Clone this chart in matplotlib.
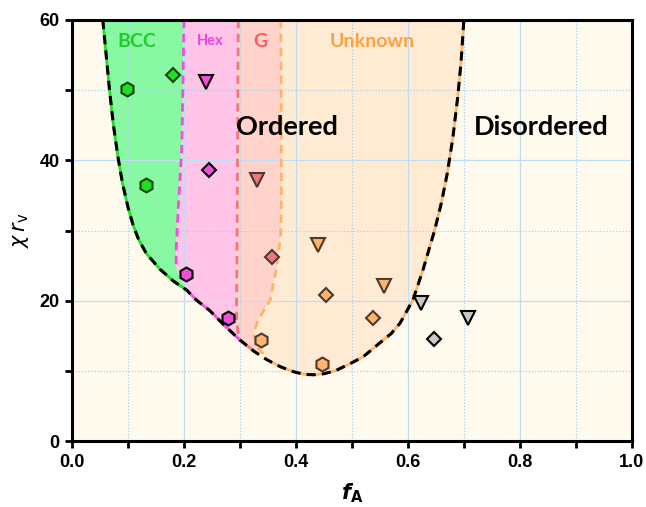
import numpy as np
import matplotlib
matplotlib.use("Agg")
import matplotlib.pyplot as plt
from matplotlib.ticker import MultipleLocator

# ---------------- data ----------------
# order-disorder boundary (black dashed)
spin_x = [0.055, 0.061, 0.067, 0.074, 0.082, 0.090, 0.100, 0.109, 0.119, 0.133, 0.157,
          0.181, 0.205, 0.222, 0.246, 0.272, 0.300, 0.325, 0.348, 0.372,
          0.395, 0.415, 0.432, 0.450, 0.470, 0.496, 0.520, 0.550, 0.570,
          0.586, 0.609, 0.627, 0.648, 0.660, 0.670, 0.680, 0.689, 0.695, 0.700]
spin_y = [60, 55, 50, 45, 40.5, 36.8, 33.3, 30.8, 28.7, 26.7, 24.5,
          22.8, 21.5, 20.1, 18.6, 16.5, 14.4, 12.8, 11.6, 10.6,
          9.9, 9.5, 9.45, 9.6, 10.0, 11.0, 12.0, 14.0, 15.3,
          16.8, 20.1, 24.4, 30.1, 34.0, 38.0, 43, 49, 54, 60]

# phase boundaries between ordered phases
bcc_hex_x = [0.200, 0.198, 0.196, 0.190, 0.186, 0.186, 0.195, 0.205]
bcc_hex_y = [60, 50, 41.6, 33.5, 27.3, 24.9, 22.8, 21.5]
hex_g_x = [0.297, 0.296, 0.295, 0.294, 0.294, 0.296, 0.300]
hex_g_y = [60, 45, 30, 20, 17.5, 15.8, 14.4]
g_unk_x = [0.373, 0.374, 0.374, 0.373, 0.366, 0.354, 0.333, 0.324, 0.330, 0.342]
g_unk_y = [60, 45, 34.4, 29.7, 24.9, 20.1, 17.3, 15.4, 13.5, 12.4]

# data points: (f_A, chi*r_v)
bcc_hexagon = ([0.098, 0.133], [50.2, 36.5])
bcc_diamond = ([0.181], [52.1])
hex_tri = ([0.240], [51.1])
hex_diamond = ([0.245], [38.6])
hex_hexagon = ([0.204, 0.279], [23.8, 17.5])
g_tri = ([0.331], [37.2])
g_diamond = ([0.358], [26.2])
unk_tri = ([0.439, 0.557], [28.0, 22.1])
unk_diamond = ([0.453, 0.537], [20.8, 17.5])
unk_hexagon = ([0.338, 0.446], [14.4, 10.95])
dis_tri = ([0.623, 0.708], [19.7, 17.5])
dis_diamond = ([0.647], [14.5])

x_ticks = [0.0, 0.2, 0.4, 0.6, 0.8, 1.0]
x_ticklabels = ["0.0", "0.2", "0.4", "0.6", "0.8", "1.0"]
y_ticks = [0, 20, 40, 60]
y_ticklabels = ["0", "20", "40", "60"]

# ---------------- style ----------------
bg = "#FFFAEE"
c_bcc_fill, c_bcc = "#88F8A2", "#22DD22"
c_hex_fill, c_hex = "#FFC4E8", "#F050D8"
c_g_fill, c_g = "#FFD2CA", "#F07878"
c_unk_fill, c_unk = "#FFEBD3", "#FFB46A"
c_dis = "#C8C8C8"
brown = "#4A3A30"

tick_font = ["Liberation Sans Narrow", "Liberation Sans", "DejaVu Sans"]
lab_font = ["Lato", "DejaVu Sans"]

fig = plt.figure(figsize=(6.46, 5.07), dpi=100)
ax = fig.add_axes([0.1115, 0.130, 0.8665, 0.8306])
ax.set_facecolor(bg)
fig.patch.set_facecolor("white")

sx = np.array(spin_x)
sy = np.array(spin_y)

# region polygons built from the boundary arrays
m_bcc = sx <= 0.2051
poly_bcc_x = list(sx[m_bcc]) + bcc_hex_x[::-1]
poly_bcc_y = list(sy[m_bcc]) + bcc_hex_y[::-1]

m_hex = (sx >= 0.2049) & (sx <= 0.3001)
poly_hex_x = bcc_hex_x + list(sx[m_hex]) + hex_g_x[::-1]
poly_hex_y = bcc_hex_y + list(sy[m_hex]) + hex_g_y[::-1]

m_g = (sx >= 0.2999) & (sx <= 0.342)
poly_g_x = hex_g_x + list(sx[m_g]) + [g_unk_x[-1]] + g_unk_x[::-1]
poly_g_y = hex_g_y + list(sy[m_g]) + [g_unk_y[-1]] + g_unk_y[::-1]

m_u = sx >= 0.342
poly_u_x = g_unk_x + list(sx[m_u])
poly_u_y = g_unk_y + list(sy[m_u])

for px, py, col in [(poly_bcc_x, poly_bcc_y, c_bcc_fill),
                    (poly_hex_x, poly_hex_y, c_hex_fill),
                    (poly_g_x, poly_g_y, c_g_fill),
                    (poly_u_x, poly_u_y, c_unk_fill)]:
    ax.fill(px, py, color=col, lw=0, zorder=1)

# grid
ax.set_axisbelow("line")
ax.xaxis.set_major_locator(MultipleLocator(0.2))
ax.xaxis.set_minor_locator(MultipleLocator(0.1))
ax.yaxis.set_major_locator(MultipleLocator(20))
ax.yaxis.set_minor_locator(MultipleLocator(10))
ax.grid(which="major", color="#BFDDF5", lw=0.9, ls="-")
ax.grid(which="minor", color="#A8D2F2", lw=0.9, ls=(0, (1, 1.5)))

# colored boundary lines (under black dashed)
dash = (0, (3, 2))
ax.plot(bcc_hex_x[:-2], bcc_hex_y[:-2], color=c_hex, lw=2, ls=dash, zorder=2)
ax.plot(hex_g_x, hex_g_y, color=c_g, lw=2, ls=dash, zorder=2)
ax.plot(g_unk_x, g_unk_y, color=c_unk, lw=2, ls=dash, zorder=2)
ax.plot(sx[m_bcc], sy[m_bcc], color=c_bcc, lw=2, zorder=2)
ax.plot(sx[m_hex], sy[m_hex], color=c_hex, lw=2, zorder=2)
ax.plot(sx[m_g], sy[m_g], color=c_g, lw=2, zorder=2)
ax.plot(sx[m_u], sy[m_u], color=c_unk, lw=2, zorder=2)
ax.plot(sx, sy, color="black", lw=2.2, ls=dash, zorder=2.5)

# markers
def pts(d, marker, fc, ec, ms):
    ax.plot(d[0], d[1], ls="none", marker=marker, mfc=fc, mec=ec, ms=ms,
            mew=1.5, zorder=3)

pts(bcc_hexagon, "h", c_bcc, "#114411", 10)
pts(bcc_diamond, "D", c_bcc, "#114411", 7)
pts(hex_tri, "v", c_hex, "black", 10)
pts(hex_diamond, "D", c_hex, "black", 7)
pts(hex_hexagon, "h", c_hex, "black", 10)
pts(g_tri, "v", c_g, brown, 10)
pts(g_diamond, "D", c_g, brown, 7)
pts(unk_tri, "v", c_unk, brown, 10)
pts(unk_diamond, "D", c_unk, brown, 7)
pts(unk_hexagon, "h", c_unk, brown, 10)
pts(dis_tri, "v", c_dis, "black", 10)
pts(dis_diamond, "D", c_dis, "black", 7)

# region labels
ax.text(0.1155, 57.0, "BCC", color="#1FCB2A", fontsize=14, fontweight="bold",
        family=lab_font, ha="center", va="center", zorder=4)
ax.text(0.247, 57.0, "Hex", color="#EE44DD", fontsize=10.5, fontweight="bold",
        family=lab_font, ha="center", va="center", zorder=4)
ax.text(0.336, 57.0, "G", color="#FF5A5A", fontsize=14, fontweight="bold",
        family=lab_font, ha="center", va="center", zorder=4)
ax.text(0.537, 57.0, "Unknown", color="#FFA040", fontsize=14, fontweight="bold",
        family=lab_font, ha="center", va="center", zorder=4)
ax.text(0.384, 44.7, "Ordered", color="black", fontsize=19.5, fontweight="bold",
        family=lab_font, ha="center", va="center", zorder=4)
ax.text(0.8375, 44.7, "Disordered", color="black", fontsize=19.5, fontweight="bold",
        family=lab_font, ha="center", va="center", zorder=4)

ax.set_xlim(0, 1)
ax.set_ylim(0, 60)
ax.set_xticks(x_ticks)
ax.set_xticklabels(x_ticklabels)
ax.set_yticks(y_ticks)
ax.set_yticklabels(y_ticklabels)
for lab in ax.get_xticklabels() + ax.get_yticklabels():
    lab.set_family(tick_font)
    lab.set_fontweight("bold")
    lab.set_fontsize(13)

ax.tick_params(which="both", direction="out", length=5, width=2, color="black", pad=4)

for s in ax.spines.values():
    s.set_linewidth(2.2)
    s.set_color("black")

ax.set_xlabel(r"$\mathbfit{f}_{\mathbf{A}}$", fontsize=15, labelpad=8)
ax.set_ylabel(r"$\chi\,\mathit{r}_{\mathrm{v}}$", fontsize=15, labelpad=6)

fig.savefig("out.png", dpi=100, facecolor="white")
